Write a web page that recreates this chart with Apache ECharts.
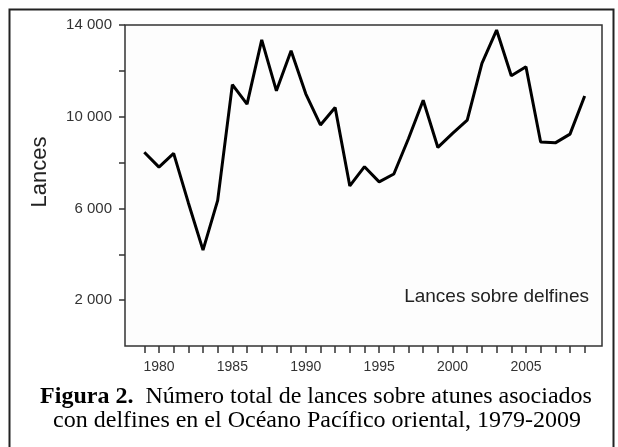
<!DOCTYPE html>
<html>
<head>
<meta charset="utf-8">
<script src="https://cdn.jsdelivr.net/npm/echarts@6/dist/echarts.min.js"></script>
<style>
html,body{margin:0;padding:0;background:#fff;}
#chart{width:618px;height:447px;}
</style>
</head>
<body>
<div id="chart"></div>
<script>
const years = [1979,1980,1981,1982,1983,1984,1985,1986,1987,1988,1989,1990,1991,1992,1993,1994,1995,1996,1997,1998,1999,2000,2001,2002,2003,2004,2005,2006,2007,2008,2009];
const lances = [8450,7800,8400,6250,4180,6350,11400,10550,13350,11130,12880,11000,9640,10400,6980,7820,7160,7500,9050,10720,8660,9270,9850,12330,13780,11790,12180,8900,8860,9240,10900];
const xLabelYears = [1980,1985,1990,1995,2000,2005];
const yTicks = [2000,4000,6000,8000,10000,12000,14000];
const yLabels = [2000,6000,10000,14000];
const yAxisTitle = 'Lances';
const seriesNote = 'Lances sobre delfines';
const captionBold = 'Figura 2.';
const captionLine1 = '  Número total de lances sobre atunes asociados';
const captionLine2 = 'con delfines en el Océano Pacífico oriental, 1979-2009';

const chart = echarts.init(document.getElementById('chart'), null, {renderer:'canvas'});
const sans = 'Liberation Sans, Arial, sans-serif';
const serif = 'Liberation Serif, Times New Roman, serif';

chart.setOption({
  animation: false,
  backgroundColor: '#ffffff',
  grid: {
    left: 125, right: 16, top: 25, bottom: 101,
    show: true, borderColor: '#333', borderWidth: 1.5,
    backgroundColor: '#fdfdfd'
  },
  xAxis: {
    type: 'value', min: 1977.686, max: 2010.18,
    axisLine: {show: false},
    splitLine: {show: false},
    axisTick: {show: true, customValues: years, length: 7, lineStyle: {color: '#333', width: 1.5}},
    axisLabel: {customValues: xLabelYears, margin: 14, fontFamily: sans, fontSize: 14, color: '#333',
      formatter: v => String(v)}
  },
  yAxis: {
    type: 'value', min: 0, max: 14000,
    axisLine: {show: false},
    splitLine: {show: false},
    axisTick: {show: true, customValues: yTicks, length: 6, lineStyle: {color: '#333', width: 1.5}},
    axisLabel: {customValues: yLabels, margin: 13, fontFamily: sans, fontSize: 15, color: '#333',
      formatter: v => { const s = String(v); return s.length > 3 ? s.slice(0, s.length-3) + ' ' + s.slice(-3) : s; }}
  },
  series: [{
    type: 'line',
    data: years.map((y, i) => [y, lances[i]]),
    symbol: 'none',
    lineStyle: {color: '#000', width: 3}
  }],
  graphic: [
    {type: 'rect', shape: {x: 9.5, y: 9.5, width: 604, height: 460}, style: {fill: null, stroke: '#222', lineWidth: 2}, silent: true},
    {type: 'text', x: 40, y: 172, rotation: Math.PI/2,
      style: {text: yAxisTitle, font: '22px ' + sans, fill: '#222', textAlign: 'center', textVerticalAlign: 'middle'}},
    {type: 'text', x: 589, y: 297,
      style: {text: seriesNote, font: '19px ' + sans, fill: '#222', textAlign: 'right', textVerticalAlign: 'middle'}},
    {type: 'text', x: 316, y: 397,
      style: {
        text: '{b|' + captionBold + '}{n|' + captionLine1 + '}',
        rich: {
          b: {fontFamily: serif, fontSize: 24, fontWeight: 'bold', fill: '#000'},
          n: {fontFamily: serif, fontSize: 24, fill: '#000'}
        },
        textAlign: 'center', textVerticalAlign: 'middle'
      }},
    {type: 'text', x: 317, y: 421,
      style: {text: captionLine2, font: '24px ' + serif, fill: '#000', textAlign: 'center', textVerticalAlign: 'middle'}}
  ]
});
</script>
</body>
</html>
